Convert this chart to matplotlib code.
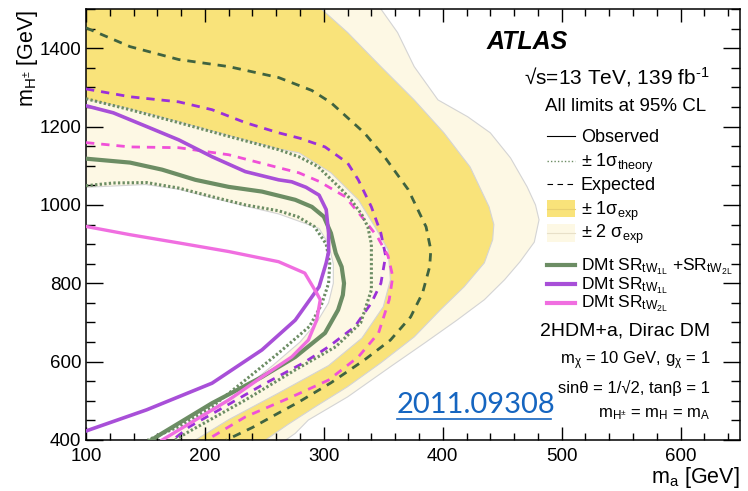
import numpy as np
import matplotlib
matplotlib.use("Agg")
import matplotlib.pyplot as plt
from matplotlib.lines import Line2D
from matplotlib.patches import Rectangle
from matplotlib.ticker import MultipleLocator

plt.rcParams['font.family'] = ['Liberation Sans', 'DejaVu Sans']
plt.rcParams['mathtext.fontset'] = 'custom'
plt.rcParams['mathtext.rm'] = 'Liberation Sans'
plt.rcParams['mathtext.it'] = 'Liberation Sans:italic'
plt.rcParams['mathtext.bf'] = 'Liberation Sans:bold'

# +/- 2 sigma expected band edges
p2_x = [348, 362, 376, 396, 421, 440, 457, 471, 478, 481, 477, 465, 452, 435, 412, 385, 356, 320, 287, 276, 268]
p2_y = [1500, 1440, 1353, 1268, 1225, 1184, 1120, 1046, 1000, 962, 905, 855, 809, 758, 706, 648, 587, 510, 451, 417, 400]
m2_x = [100, 150, 178, 206, 234, 262, 296, 304, 308, 308, 304, 294, 280, 257, 228, 195, 165]
m2_y = [1045, 1052, 1040, 1018, 997, 977, 940, 900, 850, 800, 750, 700, 650, 590, 520, 460, 400]
# +/- 1 sigma expected band edges
p1_x = [298, 320, 348, 376, 401, 423, 439, 443, 442, 435, 418, 398, 376, 348, 320, 293, 270, 251]
p1_y = [1500, 1440, 1353, 1268, 1184, 1097, 995, 950, 911, 852, 791, 732, 663, 597, 536, 485, 440, 400]
m1_x = [100, 137, 178, 220, 262, 279, 306, 329, 343, 354, 356, 350, 332, 304, 262, 220, 192]
m1_y = [1270, 1245, 1212, 1177, 1143, 1133, 1082, 1013, 944, 885, 809, 740, 660, 590, 520, 452, 400]

# expected limits
exp_comb_x = [100, 137, 178, 220, 262, 290, 306, 334, 351, 371, 386, 390, 389, 383, 373, 356, 334, 306, 279, 262, 240, 218]
exp_comb_y = [1452, 1404, 1371, 1353, 1325, 1292, 1261, 1184, 1123, 1039, 944, 885, 842, 775, 714, 655, 604, 546, 497, 469, 432, 400]
exp_1l_x = [100, 137, 178, 206, 234, 262, 280, 301, 320, 329, 340, 348, 352, 348, 340, 326, 304, 283, 248, 212, 187, 173]
exp_1l_y = [1296, 1276, 1263, 1243, 1210, 1184, 1170, 1148, 1107, 1064, 995, 928, 870, 800, 750, 689, 638, 597, 540, 477, 434, 400]
exp_2l_x = [100, 137, 178, 220, 262, 279, 296, 318, 334, 345, 354, 358, 355, 346, 329, 304, 273, 234, 206, 204]
exp_2l_y = [1159, 1148, 1146, 1128, 1095, 1082, 1060, 1021, 962, 919, 870, 817, 758, 673, 612, 553, 510, 459, 408, 400]

# observed limits
obs_comb_x = [100, 137, 164, 192, 220, 248, 276, 290, 300, 306, 310, 315, 317, 316, 312, 301, 276, 248, 206, 164, 155]
obs_comb_y = [1118, 1108, 1090, 1064, 1046, 1034, 1013, 995, 970, 928, 877, 842, 800, 770, 732, 673, 612, 561, 494, 417, 400]
th_up_x = [100, 137, 178, 220, 262, 279, 295, 315, 323, 332, 337, 340, 340, 340, 331, 310, 276, 234, 184, 175]
th_up_y = [1271, 1243, 1210, 1175, 1141, 1123, 1098, 1039, 1013, 975, 944, 900, 842, 783, 699, 638, 579, 502, 417, 400]
th_dn_x = [100, 123, 151, 178, 206, 234, 262, 278, 292, 302, 305, 304, 298, 288, 262, 234, 206, 178, 152]
th_dn_y = [1049, 1056, 1057, 1043, 1021, 1000, 985, 970, 945, 900, 850, 800, 745, 690, 622, 553, 485, 434, 400]
obs_1l_x = [100, 123, 151, 178, 206, 234, 262, 273, 285, 296, 302, 304, 304, 302, 296, 276, 248, 206, 151, 100]
obs_1l_y = [1253, 1235, 1200, 1166, 1123, 1085, 1064, 1059, 1045, 1025, 988, 928, 880, 852, 791, 706, 630, 545, 477, 423]
obs_2l_x = [100, 137, 178, 220, 262, 284, 294, 297, 294, 287, 273, 248, 220, 192, 164]
obs_2l_y = [945, 924, 903, 881, 855, 826, 775, 758, 706, 655, 612, 561, 502, 451, 400]

c_yel = '#f9e37a'
c_pale = '#fdf8e4'
c_grn = '#6c8d64'
c_grn_d = '#3f6340'
c_pur = '#a84fd8'
c_pur_d = '#9b30d9'
c_pink = '#f06ee0'
c_pink_d = '#f050d8'

fig = plt.figure(figsize=(7.48, 4.91), dpi=100)
ax = fig.add_axes([86/748, 1-440/491, 654/748, 431/491])

band2_x = [100] + p2_x + m2_x[::-1]
band2_y = [1500] + p2_y + m2_y[::-1]
band1_x = [100] + p1_x + m1_x[::-1]
band1_y = [1500] + p1_y + m1_y[::-1]
ax.fill(band2_x, band2_y, color=c_pale, lw=0, zorder=1)
ax.fill(band1_x, band1_y, color=c_yel, lw=0, zorder=1.1)
for bx, by in [(p2_x, p2_y), (m2_x, m2_y), (p1_x, p1_y), (m1_x, m1_y)]:
    ax.plot(bx, by, color='#d4d4d4', lw=0.8, zorder=1.2)

dash = (3, 2.5)
ax.plot(exp_comb_x, exp_comb_y, color=c_grn_d, lw=2, dashes=dash, zorder=3)
ax.plot(exp_1l_x, exp_1l_y, color=c_pur_d, lw=2, dashes=dash, zorder=3)
ax.plot(exp_2l_x, exp_2l_y, color=c_pink_d, lw=2, dashes=dash, zorder=3)

ax.plot(th_up_x, th_up_y, color=c_grn, lw=2.2, dashes=(0.75, 0.75), zorder=3)
ax.plot(th_dn_x, th_dn_y, color=c_grn, lw=2.2, dashes=(0.75, 0.75), zorder=3)
ax.plot(obs_comb_x, obs_comb_y, color=c_grn, lw=3, zorder=4)
ax.plot(obs_1l_x, obs_1l_y, color=c_pur, lw=2.6, zorder=4)
ax.plot(obs_2l_x, obs_2l_y, color=c_pink, lw=2.4, zorder=4)

ax.set_xlim(100, 650)
ax.set_ylim(400, 1500)
ax.xaxis.set_major_locator(MultipleLocator(100))
ax.xaxis.set_minor_locator(MultipleLocator(20))
ax.yaxis.set_major_locator(MultipleLocator(200))
ax.yaxis.set_minor_locator(MultipleLocator(50))
ax.tick_params(axis='both', which='both', direction='in', top=True, right=True, width=1, labelsize=13.5)
ax.tick_params(axis='x', which='major', length=9.5, pad=5.5)
ax.tick_params(axis='x', which='minor', length=4.7)
ax.tick_params(axis='y', which='major', length=12.5, pad=3.5)
ax.tick_params(axis='y', which='minor', length=6.5)
for s in ax.spines.values():
    s.set_linewidth(1.1)

fig.text(740/748, 1-477/491, r'm$_{\rm a}$ [GeV]', ha='right', va='center', fontsize=15.5)
fig.text(27/748, 1-10/491, r'm$_{\rm H^{\pm}}$ [GeV]', ha='center', va='top', rotation=90, fontsize=15.5)

def fx(px):
    return px / 748

def fy(py):
    return 1 - py / 491

fig.text(fx(487), fy(42), 'ATLAS', fontsize=18, fontweight='bold', fontstyle='italic', va='center', ha='left')
fig.text(fx(709), fy(84), '\u221as=13 TeV, 139 fb' + r'$^{\text{-1}}$', fontsize=15, ha='right', va='baseline')
fig.text(fx(706), fy(111), 'All limits at 95% CL', fontsize=13.5, ha='right', va='baseline')

tx = 581
fig.add_artist(Line2D([fx(547), fx(575)], [fy(136), fy(136)], color='black', lw=0.8))
fig.text(fx(tx), fy(142), 'Observed', fontsize=13, va='baseline')
fig.add_artist(Line2D([fx(547), fx(575)], [fy(161), fy(161)], color=c_grn, lw=1, dashes=(1, 1.5)))
fig.text(fx(tx), fy(167), r'$\pm$ 1$\mathrm{\sigma}_{\rm theory}$', fontsize=13, va='baseline')
fig.add_artist(Line2D([fx(547), fx(575)], [fy(184), fy(184)], color='black', lw=0.8, dashes=(5, 4)))
fig.text(fx(tx), fy(190), 'Expected', fontsize=13, va='baseline')
fig.add_artist(Rectangle((fx(547), fy(217)), fx(575) - fx(547), fy(200) - fy(217), color=c_yel, lw=0))
fig.add_artist(Line2D([fx(547), fx(575)], [fy(208.5), fy(208.5)], color='#e8d070', lw=0.8))
fig.text(fx(tx), fy(215), r'$\pm$ 1$\mathrm{\sigma}_{\rm exp}$', fontsize=13, va='baseline')
fig.add_artist(Rectangle((fx(547), fy(242)), fx(575) - fx(547), fy(224) - fy(242), color=c_pale, lw=0))
fig.add_artist(Line2D([fx(547), fx(575)], [fy(233), fy(233)], color='#e8e0c8', lw=0.8))
fig.text(fx(tx), fy(238), r'$\pm$ 2 $\mathrm{\sigma}_{\rm exp}$', fontsize=13, va='baseline')

fig.add_artist(Line2D([fx(547), fx(575)], [fy(265), fy(265)], color=c_grn, lw=3))
fig.text(fx(tx), fy(270), r'DMt SR$_{\rm tW_{1L}}$ +SR$_{\rm tW_{2L}}$', fontsize=12.5, va='baseline')
fig.add_artist(Line2D([fx(547), fx(575)], [fy(284), fy(284)], color=c_pur, lw=3))
fig.text(fx(tx), fy(289), r'DMt SR$_{\rm tW_{1L}}$', fontsize=12.5, va='baseline')
fig.add_artist(Line2D([fx(547), fx(575)], [fy(303), fy(303)], color=c_pink, lw=3))
fig.text(fx(tx), fy(307), r'DMt SR$_{\rm tW_{2L}}$', fontsize=12.5, va='baseline')

fig.text(fx(710), fy(336), '2HDM+a, Dirac DM', fontsize=14, ha='right', va='baseline')
fig.text(fx(710), fy(364), r'm$_{\rm \chi}$ = 10 GeV, g$_{\rm \chi}$ = 1', fontsize=12, ha='right', va='baseline')
fig.text(fx(710), fy(393), 'sin\u03b8 = 1/\u221a2, tan\u03b2 = 1', fontsize=12, ha='right', va='baseline')
fig.text(fx(710), fy(417), r'm$_{\rm H^{\pm}}$ = m$_{\rm H}$ = m$_{\rm A}$', fontsize=12, ha='right', va='baseline')

fig.text(fx(397), fy(413), '2011.09308', fontsize=21, color='#1565c0', family=['Lato', 'DejaVu Sans'], va='baseline')
fig.add_artist(Line2D([fx(397), fx(551)], [fy(419), fy(419)], color='#1565c0', lw=1.2))

fig.savefig('out.png', dpi=100)
